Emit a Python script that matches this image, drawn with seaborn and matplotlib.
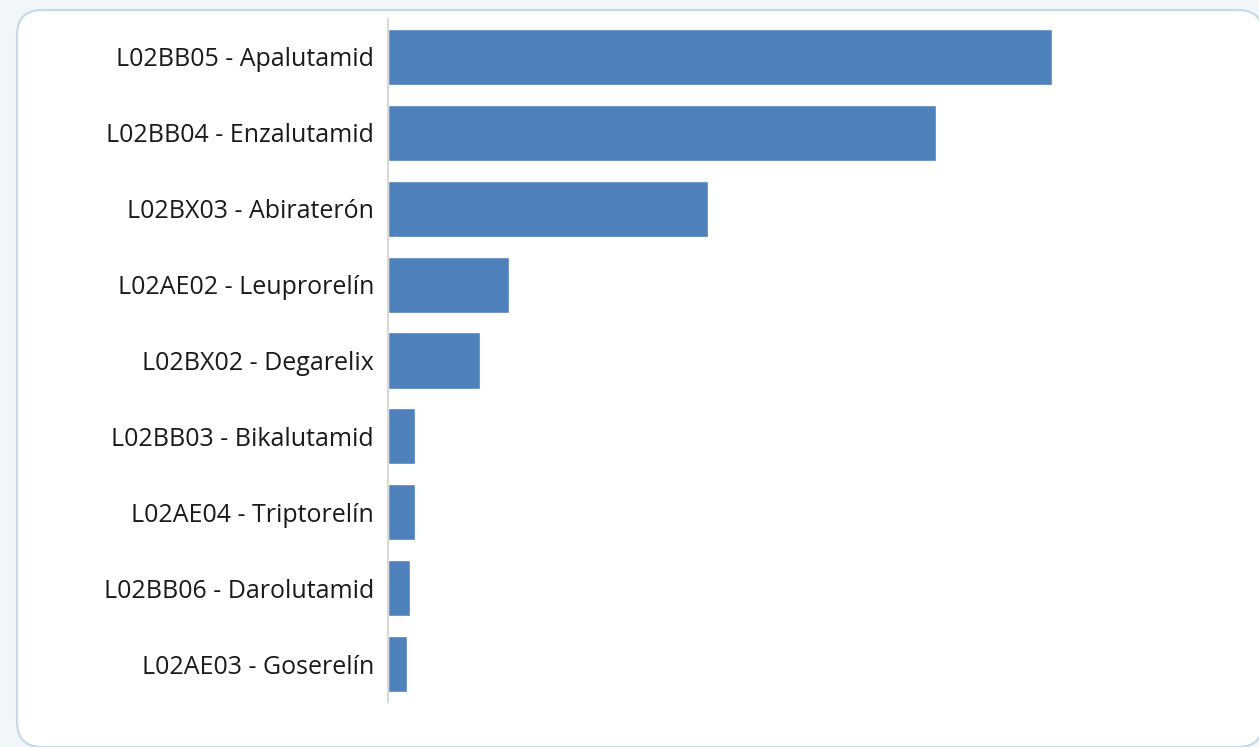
import matplotlib
matplotlib.use("Agg")
import matplotlib.pyplot as plt
from matplotlib.patches import FancyBboxPatch
import pandas as pd
import seaborn as sns

# Data (arbitrary units, no value axis shown)
drugs = [
    "L02BB05 - Apalutamid",
    "L02BB04 - Enzalutamid",
    "L02BX03 - Abiraterón",
    "L02AE02 - Leuprorelín",
    "L02BX02 - Degarelix",
    "L02BB03 - Bikalutamid",
    "L02AE04 - Triptorelín",
    "L02BB06 - Darolutamid",
    "L02AE03 - Goserelín",
]
values = [664, 548, 320, 121, 92, 27, 27, 22, 19]

df = pd.DataFrame({"drug": drugs, "value": values})

sns.set_theme(style="white")
plt.rcParams["font.family"] = ["Open Sans", "DejaVu Sans"]

W, H = 1259, 747
fig = plt.figure(figsize=(W / 100, H / 100), dpi=100)
fig.patch.set_facecolor("#F1F6F9")

# rounded white card behind the chart (pixel box)
x0, x1, y_top, y_bot = 17, 1263, 10, 747
card = FancyBboxPatch((x0 / W, 1 - y_bot / H), (x1 - x0) / W, (y_bot - y_top) / H,
                      boxstyle="round,pad=0,rounding_size=0.02",
                      transform=fig.transFigure, facecolor="white",
                      edgecolor="#C5D9EA", linewidth=1.5, zorder=-5,
                      mutation_aspect=W / H)
fig.patches.append(card)

ax = fig.add_axes([388 / W, 1 - 702 / H, (1240 - 388) / W, (702 - 19) / H])
ax.set_zorder(2)
ax.set_facecolor("none")

sns.barplot(data=df, x="value", y="drug", orient="h", color="#4F81BD",
            saturation=1, width=0.74, ax=ax)

ax.set_xlim(0, 1240 - 388)
ax.set_ylim(8.5, -0.5)
ax.set_xlabel("")
ax.set_ylabel("")
ax.set_xticks([])
ax.tick_params(axis="y", length=0, pad=10, labelsize=18, labelcolor="#1a1a1a")

for side in ["top", "right", "bottom"]:
    ax.spines[side].set_visible(False)
ax.spines["left"].set_color("#D9D9D9")
ax.spines["left"].set_linewidth(1.5)

fig.savefig("out.png", dpi=100, facecolor=fig.get_facecolor())
